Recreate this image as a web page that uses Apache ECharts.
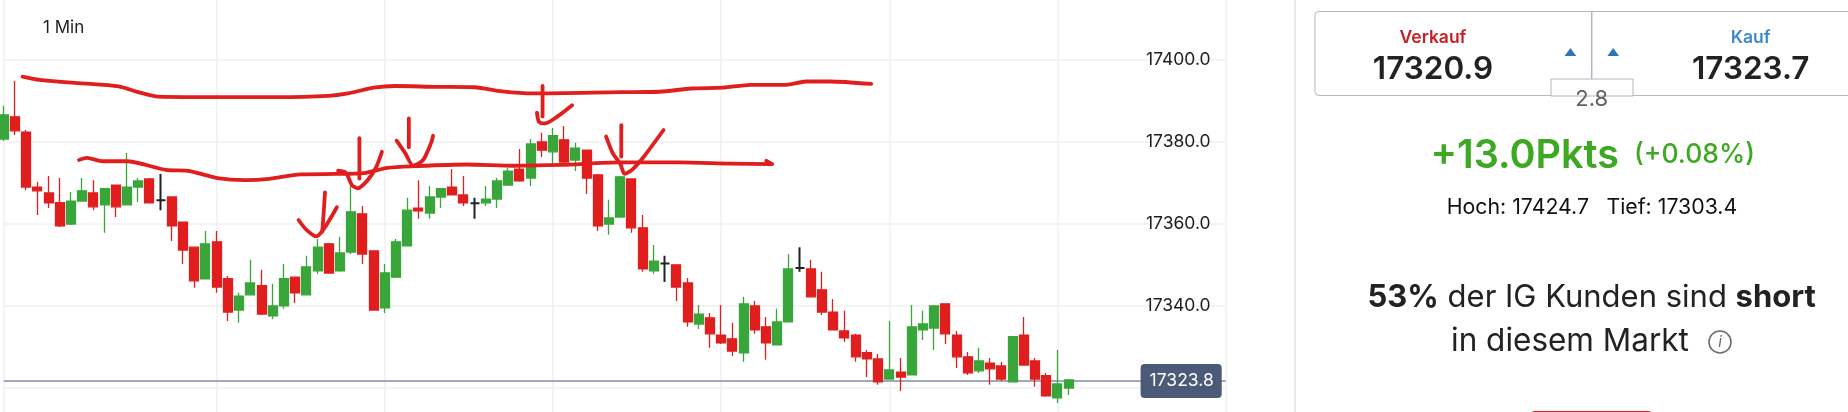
<!DOCTYPE html>
<html><head><meta charset="utf-8">
<style>html,body{margin:0;padding:0;background:#fff}#c{width:1848px;height:412px}</style>
<script src="https://cdn.jsdelivr.net/npm/echarts@6/dist/echarts.min.js"></script>
</head><body><div id="c"></div>
<script>
const opens=[17380.6,17386.0,17382.3,17368.9,17367.5,17365.1,17359.9,17365.5,17367.5,17364.6,17369.4,17364.6,17368.9,17370.9,17365.7,17366.5,17360.4,17354.3,17346.6,17355.6,17346.6,17339.0,17342.7,17344.9,17337.6,17340.0,17347.0,17342.7,17348.5,17355.1,17348.5,17353.1,17362.4,17353.4,17339.5,17347.0,17354.6,17363.8,17362.6,17366.5,17368.9,17367.0,17365.0,17365.1,17366.0,17369.4,17373.3,17371.1,17379.9,17377.5,17380.4,17375.5,17377.9,17371.9,17359.9,17361.6,17370.9,17359.0,17348.5,17350.3,17350.0,17345.6,17335.6,17337.1,17332.9,17332.0,17328.6,17340.0,17334.9,17330.5,17336.1,17349.2,17349.0,17343.9,17338.5,17333.9,17332.9,17328.6,17327.1,17322.2,17323.9,17323.2,17334.2,17334.6,17340.5,17332.9,17327.6,17324.2,17326.1,17325.4,17321.5,17332.9,17326.6,17323.0,17317.6,17320.0];
const closes=[17386.5,17382.6,17368.9,17368.0,17365.1,17359.5,17365.5,17368.0,17364.1,17368.5,17364.1,17368.9,17370.4,17365.1,17365.7,17359.5,17353.6,17346.1,17355.1,17344.6,17338.5,17342.4,17345.6,17338.0,17340.0,17346.6,17343.2,17349.5,17354.3,17348.0,17352.9,17362.9,17352.6,17339.0,17348.0,17355.6,17363.3,17363.1,17366.5,17368.5,17367.0,17365.1,17365.0,17366.0,17370.4,17372.8,17370.4,17379.4,17377.9,17381.4,17375.0,17378.4,17371.1,17359.5,17361.4,17371.4,17359.0,17349.0,17350.9,17350.3,17344.6,17336.1,17338.0,17333.2,17331.0,17329.0,17340.5,17334.2,17331.0,17336.1,17349.0,17349.2,17342.2,17338.5,17334.2,17332.2,17327.6,17327.1,17321.5,17324.4,17322.7,17334.9,17335.6,17340.0,17333.2,17327.6,17323.7,17326.6,17324.7,17322.2,17332.5,17325.6,17322.2,17318.1,17321.0,17322.0];
const lows=[17380.1,17381.6,17368.2,17362.1,17363.8,17359.2,17359.7,17365.5,17363.3,17357.8,17361.6,17364.6,17365.3,17365.1,17363.3,17355.8,17350.2,17344.4,17346.6,17343.2,17336.3,17335.9,17342.7,17337.8,17336.8,17339.3,17340.7,17342.7,17347.8,17347.8,17348.3,17352.6,17350.2,17339.0,17338.3,17346.8,17354.6,17361.2,17361.2,17363.8,17367.0,17364.3,17361.2,17364.3,17363.8,17369.4,17370.2,17369.2,17376.2,17374.5,17374.5,17372.8,17367.2,17358.2,17357.3,17361.6,17357.8,17348.3,17347.8,17345.8,17341.2,17334.9,17334.4,17329.8,17330.7,17327.8,17326.4,17333.2,17326.9,17330.5,17336.1,17348.3,17342.2,17337.8,17334.2,17331.2,17326.4,17322.7,17320.8,17322.2,17319.3,17323.2,17331.7,17329.3,17330.7,17324.9,17323.2,17323.7,17320.8,17321.7,17321.5,17325.6,17320.3,17317.9,17316.4,17318.3];
const highs=[17388.7,17394.7,17382.8,17370.2,17371.6,17371.1,17367.7,17371.1,17370.6,17368.5,17369.4,17377.2,17371.1,17371.1,17372.1,17366.5,17360.4,17354.3,17358.2,17358.2,17347.3,17343.2,17351.2,17348.8,17345.3,17350.2,17347.0,17352.2,17356.3,17355.3,17356.8,17369.2,17364.3,17353.4,17350.2,17356.3,17366.3,17370.6,17369.2,17368.5,17373.3,17371.6,17366.3,17369.2,17371.1,17373.6,17378.2,17380.6,17382.1,17383.3,17383.8,17379.7,17377.9,17372.1,17365.8,17371.6,17370.9,17362.1,17354.8,17352.2,17350.0,17346.8,17340.2,17338.3,17340.2,17335.9,17342.2,17341.2,17337.3,17339.3,17352.6,17354.3,17351.2,17348.3,17341.7,17338.8,17333.2,17329.3,17328.3,17336.3,17327.3,17340.2,17338.8,17340.2,17340.5,17333.9,17328.8,17329.8,17327.3,17326.4,17332.5,17337.3,17327.3,17323.7,17329.3,17322.2];
const slotCount=110;
const categories=[];for(let i=0;i<slotCount;i++)categories.push(String(i));
const yTickLabels=[17340,17360,17380,17400];
const priceLevel=17321.7;
const priceTag='17323.8';

/* hand-drawn annotations: [candle index, price] */
const strokeUpper=[[1.68,17395.8],[3.2,17395.0],[6.72,17394.2],[10.25,17393.4],[12.02,17392.0],[13.78,17390.9],[17.31,17390.8],[24.36,17390.8],[28.95,17391.1],[30.71,17391.7],[33.0,17393.1],[34.94,17393.5],[38.47,17393.3],[42,17393.2],[44.47,17392.2],[47.29,17391.7],[54.98,17392.0],[58.5,17392.1],[61.33,17392.9],[64.15,17393.1],[66.62,17393.8],[69.8,17393.8],[71.56,17394.6],[73.67,17394.6],[77.38,17394.0]];
const strokeLower=[[6.72,17375.5],[7.43,17376.0],[8.84,17375.2],[10.96,17375.2],[14.48,17373.1],[16.6,17372.8],[19.07,17371.1],[21.54,17370.6],[23.66,17370.9],[26.48,17372.0],[29.65,17372.1],[32.12,17372.3],[34.24,17373.6],[36.71,17374.0],[41.29,17374.4],[45.52,17374.1],[49.75,17374.3],[54.98,17374.9],[60.27,17374.9],[64.86,17374.6],[68.56,17374.5],[68.03,17375.3]];
const tickA1=[[28.66,17367.6],[28.52,17361.7],[28.42,17358.1]];
const tickA2=[[26.3,17360.9],[27.01,17358.5],[27.9,17356.9],[28.6,17358.9],[29.72,17364.0]];
const tickB1=[[31.73,17380.8],[31.73,17371.0]];
const tickB2=[[29.83,17372.9],[30.53,17372.4],[31.06,17369.4],[31.59,17368.6],[32.47,17370.6],[33.18,17373.5],[33.74,17377.5]];
const tickC1=[[36.14,17385.6],[36.14,17378.6]];
const tickC2=[[35.05,17380.2],[35.83,17377.1],[36.53,17374.1],[37.41,17375.5],[38.12,17379.6],[38.3,17381.4]];
const tickD1=[[48.07,17393.5],[48.07,17386.1]];
const tickD2=[[47.57,17387.0],[47.75,17384.8],[48.28,17384.4],[49.41,17386.1],[50.71,17388.8]];
const tickE1=[[55.09,17384.0],[55.09,17376.3]];
const tickE2=[[53.74,17381.2],[54.34,17377.1],[54.98,17374.7],[55.4,17372.1],[56.04,17373.1],[57.1,17376.3],[58.86,17382.8]];
const strokes=[strokeUpper,strokeLower,tickA1,tickA2,tickB1,tickB2,tickC1,tickC2,tickD1,tickD2,tickE1,tickE2];

const RED='#e01e1e',GREEN='#38a63a',DOJI='#222222',GRID='#eef0f2',FONT='Inter';
const candles=opens.map((o,i)=>{
  const item={value:[o,closes[i],lows[i],highs[i]]};
  if(o===closes[i])item.itemStyle={borderWidth:2};
  return item;
});
const T=(x,y,text,size,color,weight,align,rich)=>({type:'text',x,y,silent:true,style:{text,fontFamily:FONT,fontSize:size,fill:color,fontWeight:weight||400,align:align||'center',verticalAlign:'middle',rich}});
const L=(x1,y1,x2,y2,c,w)=>({type:'line',silent:true,shape:{x1,y1,x2,y2},style:{stroke:c,lineWidth:w||1}});
const BORDER='#b4b6c0';
const chart=echarts.init(document.getElementById('c'),null,{renderer:'canvas'});
chart.setOption({
  animation:false,
  backgroundColor:'#ffffff',
  grid:{left:3.7,width:1221.9,top:-22.9,height:493.2,outerBoundsMode:'none'},
  xAxis:[
    {type:'category',data:categories,boundaryGap:false,axisLine:{show:false},axisTick:{show:false},axisLabel:{show:false},
     splitLine:{show:true,interval:(i)=>i===0||(i>=19&&(i-4)%15===0),lineStyle:{color:GRID,width:1.5}}},
    {type:'value',min:0,max:slotCount-1,show:false}
  ],
  yAxis:{type:'value',position:'right',min:17300,max:17420,interval:20,axisLine:{show:false},axisTick:{show:false},
    axisLabel:{inside:true,margin:15,fontFamily:FONT,fontSize:17.5,color:'#1f1f1f',
      formatter:(v)=>yTickLabels.includes(v)?v.toFixed(1):''},
    splitLine:{show:true,lineStyle:{color:GRID,width:1.5}}},
  series:[
    {type:'line',data:[],z:1,silent:true,
     markLine:{silent:true,symbol:'none',animation:false,z:1,
       lineStyle:{color:'#a1a9bb',width:2,type:'solid'},
       label:{show:true,position:'end',distance:-85,formatter:priceTag,fontFamily:FONT,fontSize:17.5,color:'#ffffff',
         backgroundColor:'#4a5a78',borderRadius:4,padding:[8,8,8,9]},
       data:[{yAxis:priceLevel}]}},
    {type:'candlestick',name:'1 Min',data:candles,barWidth:9.5,z:3,silent:true,
     itemStyle:{color:GREEN,color0:RED,borderColor:GREEN,borderColor0:RED,borderColorDoji:DOJI,borderWidth:1.3}},
    ...strokes.map(s=>({type:'line',xAxisIndex:1,data:s,smooth:0.25,symbol:'none',silent:true,z:5,
      lineStyle:{color:RED,width:3.8,cap:'round',join:'round'}}))
  ],
  graphic:[
    T(43,28,'1 Min',17,'#1f1f1f',400,'left'),
    L(1295,0,1295,412,'#dcdcdc',1.2),
    {type:'rect',silent:true,shape:{x:1315,y:11.5,width:560,height:84,r:4},style:{fill:'#fff',stroke:BORDER,lineWidth:1}},
    L(1591.7,11.5,1591.7,79,BORDER,1.5),
    {type:'rect',silent:true,shape:{x:1551,y:79,width:82,height:17},style:{fill:'#fff',stroke:BORDER,lineWidth:1}},
    T(1591.7,99,'2.8',22,'#5f6368'),
    T(1433,37.5,'Verkauf',17.5,'#c42126',600),
    T(1433,70,'17320.9',31.5,'#222222',600),
    T(1750.7,37.5,'Kauf',17.5,'#3c88cf',600),
    T(1750.7,70,'17323.7',31.5,'#222222',600),
    {type:'polygon',silent:true,shape:{points:[[1570.4,48],[1576.2,56],[1564.6,56]]},style:{fill:'#2f75b5'}},
    {type:'polygon',silent:true,shape:{points:[[1613.2,48],[1619,56],[1607.4,56]]},style:{fill:'#2f75b5'}},
    T(1430.5,156,'+13.0Pkts',39.5,'#3da821',600,'left'),
    T(1634,155,'(+0.08%)',26.5,'#3da821',500,'left'),
    T(1446.7,208,'Hoch: 17424.7',21.3,'#111111',400,'left'),
    T(1606.4,208,'Tief: 17303.4',21.3,'#111111',400,'left'),
    T(1591.7,298,'{b|53%} der IG Kunden sind {b|short}',31,'#222222',400,'center',{b:{fontFamily:FONT,fontSize:31,fontWeight:700,fill:'#222222',color:'#222222'}}),
    T(1451,342,'in diesem Markt',31.5,'#222222',400,'left'),
    {type:'circle',silent:true,shape:{cx:1720,cy:342,r:11},style:{fill:'none',stroke:'#6a6d75',lineWidth:1.6}},
    {type:'text',x:1720,y:342,silent:true,style:{text:'i',fontFamily:FONT,fontSize:15,fontStyle:'italic',fill:'#6a6d75',align:'center',verticalAlign:'middle'}},
    {type:'rect',silent:true,shape:{x:1531,y:411,width:121,height:8,r:[4,4,0,0]},style:{fill:RED}}
  ]
});
</script></body></html>
